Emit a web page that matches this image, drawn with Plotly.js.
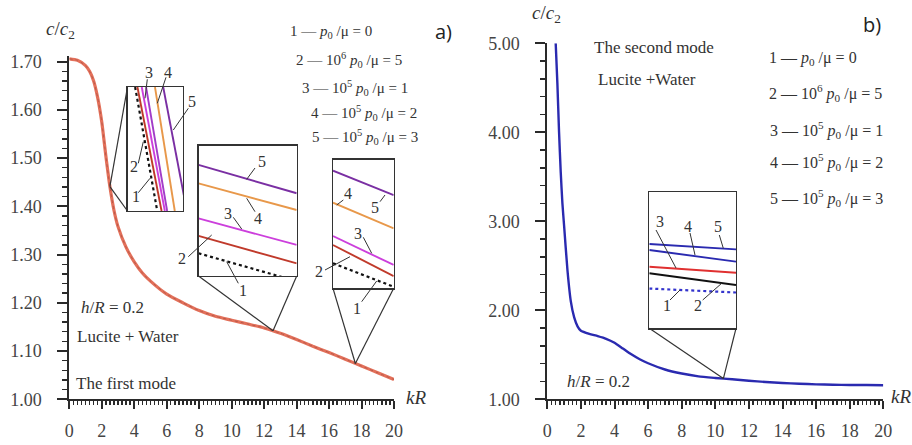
<!DOCTYPE html>
<html><head><meta charset="utf-8">
<script src="https://cdn.plot.ly/plotly-3.0.1.min.js"></script>
<style>html,body{margin:0;padding:0;background:#fff}#chart{width:912px;height:445px}</style>
</head><body><div id="chart"></div>
<script>
// ---------- DATA ----------
// (a) first mode, c/c2 vs kR
const kR_a = [0,0.5,1.0,1.25,1.5,1.75,2.0,2.25,2.5,2.75,3.0,3.5,4.0,4.5,5,6,7,8,9,10,11,12,13,14,15,16,17,18,19,20];
const c_a  = [1.706,1.703,1.692,1.680,1.660,1.625,1.575,1.505,1.441,1.392,1.358,1.315,1.285,1.262,1.245,1.218,1.200,1.184,1.172,1.164,1.156,1.148,1.137,1.124,1.110,1.097,1.083,1.069,1.055,1.041];
// (b) second mode
const kR_b = [0.5,0.6,0.7,0.8,0.9,1.0,1.2,1.4,1.6,1.8,2.0,2.5,3.0,3.5,4.0,4.5,5,5.5,6,7,8,9,10,11,12,13,14,15,16,17,18,19,20];
const c_b  = [5.0,4.55,4.0,3.55,3.2,2.95,2.45,2.1,1.92,1.82,1.77,1.735,1.71,1.68,1.635,1.57,1.505,1.45,1.405,1.335,1.29,1.258,1.240,1.225,1.208,1.195,1.183,1.175,1.168,1.164,1.161,1.160,1.158];
// magnified points (kR)
const zoomKR_a = [2.5, 12.55, 17.62];
const zoomKR_b = [10.48];
// inset A (steep part, relative units): x at top (y=1) and bottom (y=0)
const insA_y  = [1, 0];
const insA_1  = [0.1375, 0.536];
const insA_2  = [0.179, 0.614];
const insA_3  = [0.257, 0.673];
const insA_3b = [0.334, 0.714];
const insA_4  = [0.495, 0.852];
const insA_5  = [0.643, 1.07];
// inset B (around kR=12.55), values at left/right edges
const insB_x = [0, 1];
const insB_1 = [0.174, -0.04];
const insB_2 = [0.307, 0.097];
const insB_3 = [0.442, 0.238];
const insB_4 = [0.710, 0.506];
const insB_5 = [0.851, 0.634];
// inset C (around kR=17.62)
const insC_x = [0, 1];
const insC_1 = [0.194, 0.012];
const insC_2 = [0.336, 0.095];
const insC_3 = [0.406, 0.181];
const insC_4 = [0.665, 0.466];
const insC_5 = [0.913, 0.724];
// inset R (second mode, around kR=10.48)
const insR_x = [0, 1];
const insR_1 = [0.291, 0.262];
const insR_2 = [0.403, 0.317];
const insR_3 = [0.451, 0.407];
const insR_4 = [0.573, 0.488];
const insR_5 = [0.617, 0.578];
const legendLines = [
  "1 — <i>p</i><sub>0</sub> /μ = 0",
  "2 — 10<sup>6</sup> <i>p</i><sub>0</sub> /μ = 5",
  "3 — 10<sup>5</sup> <i>p</i><sub>0</sub> /μ = 1",
  "4 — 10<sup>5</sup> <i>p</i><sub>0</sub> /μ = 2",
  "5 — 10<sup>5</sup> <i>p</i><sub>0</sub> /μ = 3"
];

// ---------- LAYOUT HELPERS ----------
const W = 912, H = 445;
const PX = x => x / W, PY = y => 1 - y / H;
const A = {x0:69.3, x1:394, xr:[0,20], yb:399.3, yt:55.9, yr:[1.0,1.712]};
const B = {x0:547.3, x1:883.3, xr:[0,20], yb:399.3, yt:43.3, yr:[1.0,5.0]};
function toPx(ax, xv, yv){
  return [ax.x0 + (xv-ax.xr[0])/(ax.xr[1]-ax.xr[0])*(ax.x1-ax.x0),
          ax.yb - (yv-ax.yr[0])/(ax.yr[1]-ax.yr[0])*(ax.yb-ax.yt)];
}
function interp(xs, ys, x){
  for(let i=0;i<xs.length-1;i++){ if(x>=xs[i]&&x<=xs[i+1]){const t=(x-xs[i])/(xs[i+1]-xs[i]);return ys[i]+t*(ys[i+1]-ys[i]);} }
  return ys[ys.length-1];
}
// inset boxes in pixels [left, top, right, bottom]
const boxA = [127.5, 87, 183, 211];
const boxB = [198.5, 145.5, 296.7, 276];
const boxC = [333, 159.5, 393.7, 288.3];
const boxR = [649.3, 191.7, 736, 328.3];
const dom = b => ({x:[PX(b[0]),PX(b[2])], y:[PY(b[3]),PY(b[1])]});

const serif = "'Liberation Serif', 'Times New Roman', Times, serif";
const ink = '#2a2a2a';
const colP='#7a2fa3', colO='#e8984a', colM='#cc3fdc', colR='#c03a2b';
const colBlue='#2a2ab0';

const traces = [];
traces.push({x:kR_a, y:c_a, xaxis:'x', yaxis:'y', mode:'lines', line:{color:'#e3705a', width:3.2, shape:'spline', smoothing:0.6}, cliponaxis:false, hoverinfo:'skip'});
traces.push({x:kR_a, y:c_a, xaxis:'x', yaxis:'y', mode:'lines', line:{color:'#b85a4a', width:1, dash:'dot', shape:'spline', smoothing:0.6}, cliponaxis:false, hoverinfo:'skip'});
traces.push({x:kR_b, y:c_b, xaxis:'x2', yaxis:'y2', mode:'lines', line:{color:colBlue, width:2.4, shape:'spline', smoothing:0.5}, cliponaxis:false, hoverinfo:'skip'});

function L(x,y,xa,ya,color,dash){traces.push({x:x,y:y,xaxis:xa,yaxis:ya,mode:'lines',line:{color:color,width:dash?2.2:1.9,dash:dash||'solid'},hoverinfo:'skip'});}
// inset A
L(insA_1, insA_y,'x3','y3','#111','dot');
L(insA_2, insA_y,'x3','y3',colR);
L(insA_3, insA_y,'x3','y3',colM);
L(insA_3b,insA_y,'x3','y3','#a23cc8');
L(insA_4, insA_y,'x3','y3',colO);
L(insA_5, insA_y,'x3','y3',colP);
// inset B
L(insB_x, insB_1,'x4','y4','#111','dot');
L(insB_x, insB_2,'x4','y4',colR);
L(insB_x, insB_3,'x4','y4',colM);
L(insB_x, insB_4,'x4','y4',colO);
L(insB_x, insB_5,'x4','y4',colP);
// inset C
L(insC_x, insC_1,'x5','y5','#111','dot');
L(insC_x, insC_2,'x5','y5',colR);
L(insC_x, insC_3,'x5','y5',colM);
L(insC_x, insC_4,'x5','y5',colO);
L(insC_x, insC_5,'x5','y5',colP);
// inset R
L(insR_x, insR_1,'x6','y6','#3333cc','dot');
L(insR_x, insR_2,'x6','y6','#111');
L(insR_x, insR_3,'x6','y6','#e03030');
L(insR_x, insR_4,'x6','y6',colBlue);
L(insR_x, insR_5,'x6','y6',colBlue);

// ---------- AXES ----------
const tickfont = {family:serif, size:18, color:'#444'};
function mainX(ax, anchor){
  return {domain:[PX(ax.x0),PX(ax.x1)], range:ax.xr, anchor:anchor, showline:true, linecolor:ink, linewidth:2,
    ticks:'outside', ticklen:8, tickwidth:2, tickcolor:ink, tick0:0, dtick:2, showgrid:false, zeroline:false,
    minor:{ticks:'outside', ticklen:4, tickwidth:1.4, tickcolor:ink, dtick:0.25, showgrid:false},
    tickfont:tickfont, ticklabelstandoff:6, fixedrange:true};
}
function mainY(ax, anchor, dt, mdt){
  return {domain:[PY(ax.yb),PY(ax.yt)], range:ax.yr, anchor:anchor, showline:true, linecolor:ink, linewidth:2,
    ticks:'outside', ticklen:10, tickwidth:2, tickcolor:ink, tick0:1, dtick:dt, tickformat:'.2f', showgrid:false, zeroline:false,
    minor:{ticks:'outside', ticklen:5, tickwidth:1.4, tickcolor:ink, dtick:mdt, showgrid:false},
    tickfont:tickfont, ticklabelstandoff:12, fixedrange:true};
}
function insAx(b, anchor, isY){
  const d = dom(b);
  return {domain:isY?d.y:d.x, range:[0,1], anchor:anchor, showline:true, mirror:true, linecolor:'#333', linewidth:1.2,
    ticks:'', showticklabels:false, showgrid:false, zeroline:false, fixedrange:true};
}

// ---------- SHAPES (connectors, leaders) ----------
const shapes = [];
function seg(x0,y0,x1,y1,w){shapes.push({type:'line',xref:'paper',yref:'paper',x0:PX(x0),y0:PY(y0),x1:PX(x1),y1:PY(y1),line:{color:'#333',width:w||1}});}
const pA = toPx(A, zoomKR_a[0], interp(kR_a,c_a,zoomKR_a[0]));
const pB = toPx(A, zoomKR_a[1], interp(kR_a,c_a,zoomKR_a[1]));
const pC = toPx(A, zoomKR_a[2], interp(kR_a,c_a,zoomKR_a[2]));
const pR = toPx(B, zoomKR_b[0], interp(kR_b,c_b,zoomKR_b[0]));
seg(boxA[0],boxA[1],pA[0],pA[1],1.2); seg(boxA[0],boxA[3],pA[0],pA[1],1.2);
seg(boxB[0],boxB[3],pB[0],pB[1],1.2); seg(boxB[2],boxB[3],pB[0],pB[1],1.2);
seg(boxC[0],boxC[3],pC[0],pC[1],1.2); seg(boxC[2],boxC[3],pC[0],pC[1],1.2);
seg(boxR[0],boxR[3],pR[0],pR[1],1.2); seg(boxR[2],boxR[3],pR[0],pR[1],1.2);
// leader lines
[[147.3,79.3,145,98.3],[166,77.3,157.3,103.3],[188.3,108.3,173.3,130],[138.3,163.3,143.3,141.7],[138.3,192.7,150,178.3],
 [255,168,246.7,179.3],[255,211.7,246.7,198.3],[233.3,217.3,241.7,229],[188.3,256.7,211.7,235],[238.3,283.3,226.7,261.7],
 [343.3,200,336.7,205],[380,201.7,385,195],[363.3,237.3,371.7,253.3],[325,270,350,256.7],[361.7,301.7,376.7,281],
 [656,230,676,268],[690,233,695,255],[719.3,235,723.3,248.3],[670,300,680,290],[702.7,300,721.7,283.3]
].forEach(s=>seg(s[0],s[1],s[2],s[3],1));

// ---------- ANNOTATIONS ----------
const ann = [];
function T(text,x,y,size,opts){ann.push(Object.assign({text:text,x:PX(x),y:PY(y),xref:'paper',yref:'paper',showarrow:false,
  xanchor:'center',yanchor:'middle',font:{family:serif,size:size,color:'#333'}},opts||{}));}
// inset numbers
[['3',149,72],['4',168,72],['5',192,102],['2',133.5,166],['1',135.5,196],
 ['5',261.7,161],['4',258.3,218],['3',228.3,213],['2',181.7,258],['1',243.3,290],
 ['4',348.3,193],['5',375,207],['3',358.3,233],['2',319.3,271.5],['1',357.3,308],
 ['3',660,221],['4',688.3,226],['5',718.3,226],['1',666.7,305],['2',698.3,305]
].forEach(a=>T(a[0],a[1],a[2],16));
// axis titles
T('<i>c</i>/<i>c</i><sub>2</sub>',60,30,19);
T('<i>c</i>/<i>c</i><sub>2</sub>',546,14,19);
T('<i>kR</i>',416,397,19);
T('<i>kR</i>',901,396,19);
// panel texts
T('<i>h</i>/<i>R</i> = 0.2',112,307,17);
T('Lucite + Water',127.5,336,17);
T('The first mode',126,383,17);
T('The second mode',654,48,17);
T('Lucite +Water',647,79,17);
T('<i>h</i>/<i>R</i> = 0.2',598,381,17);
T('a)',443,31,20,{font:{family:"'Open Sans', sans-serif",size:20,color:'#222'}});
T('b)',872,24,20,{font:{family:"'Open Sans', sans-serif",size:20,color:'#222'}});
// legends
const legA = [[288,31.7],[294,60],[300,88],[309,113.5],[310,136.5]];
const legB = [[767,58],[767,93],[768,130],[768,162],[768,198]];
legendLines.forEach((t,i)=>{
  T(t,legA[i][0],legA[i][1],15,{xanchor:'left'});
  T(t,legB[i][0],legB[i][1],16,{xanchor:'left'});
});

const layout = {
  width:W, height:H, margin:{l:0,r:0,t:0,b:0}, showlegend:false,
  paper_bgcolor:'#fff', plot_bgcolor:'rgba(255,255,255,1)',
  xaxis: mainX(A,'y'), yaxis: mainY(A,'x',0.1,0.02),
  xaxis2: mainX(B,'y2'), yaxis2: mainY(B,'x2',1,0.2),
  xaxis3: insAx(boxA,'y3',false), yaxis3: insAx(boxA,'x3',true),
  xaxis4: insAx(boxB,'y4',false), yaxis4: insAx(boxB,'x4',true),
  xaxis5: insAx(boxC,'y5',false), yaxis5: insAx(boxC,'x5',true),
  xaxis6: insAx(boxR,'y6',false), yaxis6: insAx(boxR,'x6',true),
  shapes: shapes, annotations: ann
};
Plotly.newPlot('chart', traces, layout, {staticPlot:true, displayModeBar:false});
</script></body></html>
